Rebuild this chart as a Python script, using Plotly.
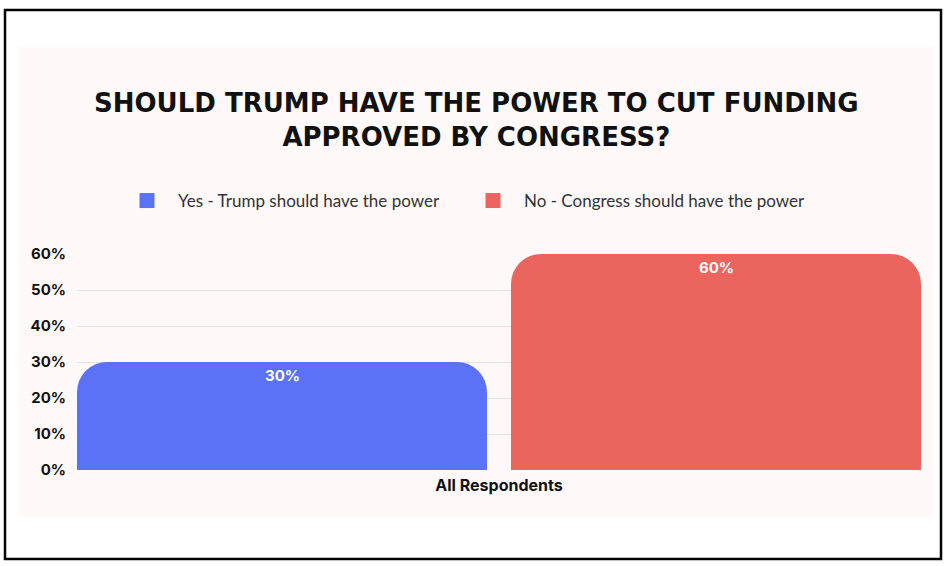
import plotly.graph_objects as go

categories = ["All Respondents"]
series_names = ["Yes - Trump should have the power", "No - Congress should have the power"]
yes_values = [30]
no_values = [60]
text_labels_yes = ["30%"]
text_labels_no = ["60%"]
ytick_vals = [0, 10, 20, 30, 40, 50, 60]
ytick_text = ["0%", "10%", "20%", "30%", "40%", "50%", "60%"]
title_text = "SHOULD TRUMP HAVE THE POWER TO CUT FUNDING<br>APPROVED BY CONGRESS?"

colors = ["#5B72F7", "#EC645E"]

W, H = 948, 566
L, R, T, B = 77, 27, 254, 96
PW, PH = W - L - R, H - T - B

def px_x(x):
    return (x - L) / PW

def px_y(y):
    return (H - B - y) / PH

bar_w = 410 / PW
offsets = [-0.5, 0.5 - bar_w]
values = [yes_values, no_values]
labels = [text_labels_yes, text_labels_no]

fig = go.Figure()
for i in range(2):
    fig.add_trace(go.Bar(
        x=categories, y=values[i], name=series_names[i],
        marker=dict(color=colors[i], line=dict(width=0)),
        width=bar_w, offset=offsets[i],
        showlegend=False, hoverinfo="skip",
    ))
# legend entries with larger square symbols
for i in range(2):
    fig.add_trace(go.Scatter(
        x=[None], y=[None], mode="markers", name=series_names[i],
        marker=dict(symbol="square", size=15, color=colors[i]),
        showlegend=True, hoverinfo="skip",
    ))

annotations = []
for i in range(2):
    for c, v, t in zip(categories, values[i], labels[i]):
        annotations.append(dict(
            x=offsets[i] + bar_w / 2, y=v, xref="x", yref="y",
            text=t, showarrow=False, yanchor="top", yshift=-2,
            font=dict(family="Inter", size=15, color="white", weight=700),
        ))
annotations.append(dict(
    text=title_text, xref="paper", yref="paper",
    x=px_x(476), y=px_y(120), xanchor="center", yanchor="middle",
    showarrow=False, align="center",
    font=dict(family="DejaVu Sans", size=26, color="#111111", weight=700),
))

shapes = [
    dict(type="rect", xref="paper", yref="paper", layer="below",
         x0=px_x(19), x1=px_x(933), y0=px_y(517), y1=px_y(47),
         fillcolor="#FFFAF9", line=dict(width=0)),
    dict(type="rect", xref="paper", yref="paper", layer="above",
         x0=px_x(5), x1=px_x(941), y0=px_y(559), y1=px_y(10),
         fillcolor="rgba(0,0,0,0)", line=dict(color="black", width=2.5)),
]

fig.update_layout(
    width=W, height=H,
    margin=dict(l=L, r=R, t=T, b=B),
    paper_bgcolor="white",
    plot_bgcolor="rgba(0,0,0,0)",
    barmode="overlay",
    barcornerradius=30,
    shapes=shapes,
    annotations=annotations,
    showlegend=True,
    legend=dict(orientation="h", x=px_x(462), xanchor="center",
                y=px_y(201), yanchor="middle",
                font=dict(family="Lato", size=17, color="#333333"),
                bgcolor="rgba(0,0,0,0)", itemwidth=52,
                entrywidth=279, entrywidthmode="pixels",
                traceorder="normal"),
    xaxis=dict(range=[-0.5, 0.5], showgrid=False, zeroline=False,
               showline=False, ticks="", ticklabelstandoff=4,
               tickfont=dict(family="Inter", size=16, color="#111111", weight=700)),
    yaxis=dict(range=[0, 60], tickvals=ytick_vals, ticktext=ytick_text,
               showgrid=True, gridcolor="#E6E3E2", gridwidth=1,
               zeroline=False, showline=False, ticks="",
               ticklabelstandoff=10,
               tickfont=dict(family="Inter", size=15, color="#111111", weight=700)),
)

fig.write_html("out.html", config={"displayModeBar": False},
               post_script="document.body.style.margin='0';document.body.style.overflow='hidden';")
